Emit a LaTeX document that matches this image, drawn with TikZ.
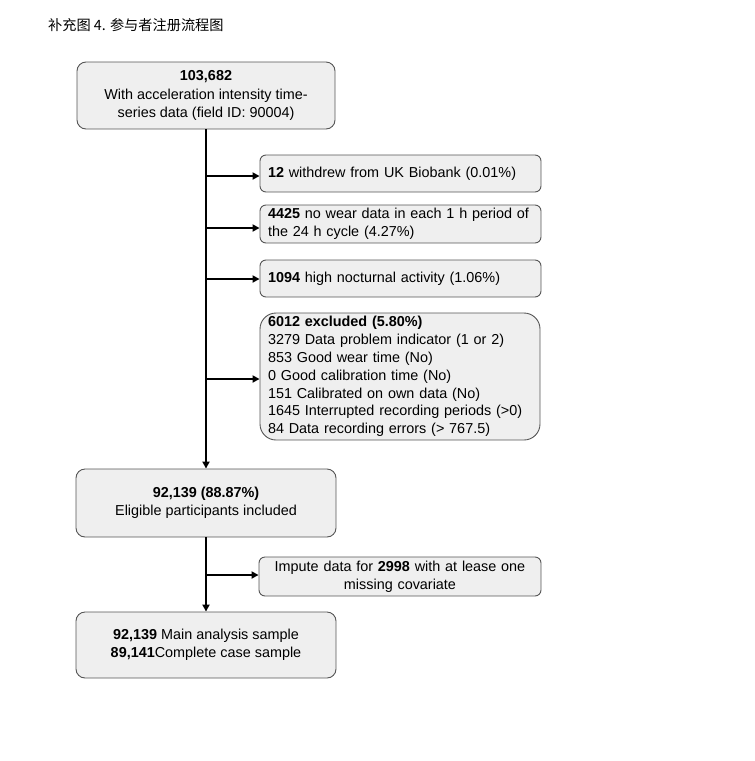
\documentclass[tikz,border=0pt]{standalone}
\usepackage{fontspec}
\setmainfont{Liberation Sans}
\newfontfamily\cjk{Noto Sans CJK SC}
\usetikzlibrary{arrows.meta,positioning}
\definecolor{boxfill}{HTML}{EFEFEF}
\definecolor{boxline}{HTML}{555555}
\begin{document}
\begin{tikzpicture}[x=1pt,y=-1pt,
  box/.style={draw=boxline,fill=boxfill,line width=0.9pt,rounded corners=9pt,
    inner sep=0pt,font=\fontsize{14.4}{18.5}\selectfont,align=center},
  sidebox/.style={draw=boxline,fill=boxfill,line width=0.9pt,rounded corners=6pt,
    inner sep=0pt,font=\fontsize{14.4}{17.8}\selectfont},
  trunk/.style={line width=1.8pt,-{Triangle[length=7pt,width=7pt]}}]
\useasboundingbox (0,0) rectangle (755,761);
\node[anchor=west,inner sep=0pt,font=\cjk\fontsize{14.2}{16}\selectfont] (title) at (48,25) {补充图 4. 参与者注册流程图};

\node[box,minimum width=258pt,minimum height=67pt] (top) at (206,95.5)
  {\textbf{103,682}\\With acceleration intensity time-\\series data (field ID: 90004)};
\node[sidebox,minimum width=281pt,minimum height=37pt,text width=265pt,align=left] (a) at (400.5,173.5)
  {\textbf{12} withdrew from UK Biobank (0.01\%)};
\node[sidebox,minimum width=281pt,minimum height=38pt,text width=265pt,align=left] (b) at (400.5,224)
  {\textbf{4425} no wear data in each 1 h period of\\the 24 h cycle (4.27\%)};
\node[sidebox,minimum width=281pt,minimum height=37pt,text width=265pt,align=left] (c) at (400.5,278.5)
  {\textbf{1094} high nocturnal activity (1.06\%)};
\node[sidebox,rounded corners=16pt,minimum width=280pt,minimum height=127pt,text width=264pt,align=left] (d) at (400,376.5)
  {\textbf{6012 excluded (5.80\%)}\\3279 Data problem indicator (1 or 2)\\853 Good wear time (No)\\0 Good calibration time (No)\\151 Calibrated on own data (No)\\1645 Interrupted recording periods (>0)\\84 Data recording errors (> 767.5)};
\node[box,minimum width=260pt,minimum height=68pt] (mid) at (206,503)
  {\textbf{92,139 (88.87\%)}\\Eligible participants included};
\node[sidebox,minimum width=282pt,minimum height=39pt,text width=276pt,align=center] (e) at (400,576.5)
  {Impute data for \textbf{2998} with at lease one\\missing covariate};
\node[box,minimum width=260pt,minimum height=66pt] (bot) at (206,645)
  {\textbf{92,139} Main analysis sample\\\textbf{89,141}Complete case sample};

\coordinate (j1) at (206,176);
\coordinate (j2) at (206,228);
\coordinate (j3) at (206,279);
\coordinate (j4) at (206,379);
\coordinate (j5) at (206,575);
\draw[trunk] (top.south) -- (mid.north);
\draw[trunk] (mid.south) -- (bot.north);
\draw[trunk] (j1) -- (j1 -| a.west);
\draw[trunk] (j2) -- (j2 -| b.west);
\draw[trunk] (j3) -- (j3 -| c.west);
\draw[trunk] (j4) -- (j4 -| d.west);
\draw[trunk] (j5) -- (j5 -| e.west);
\end{tikzpicture}
\end{document}
